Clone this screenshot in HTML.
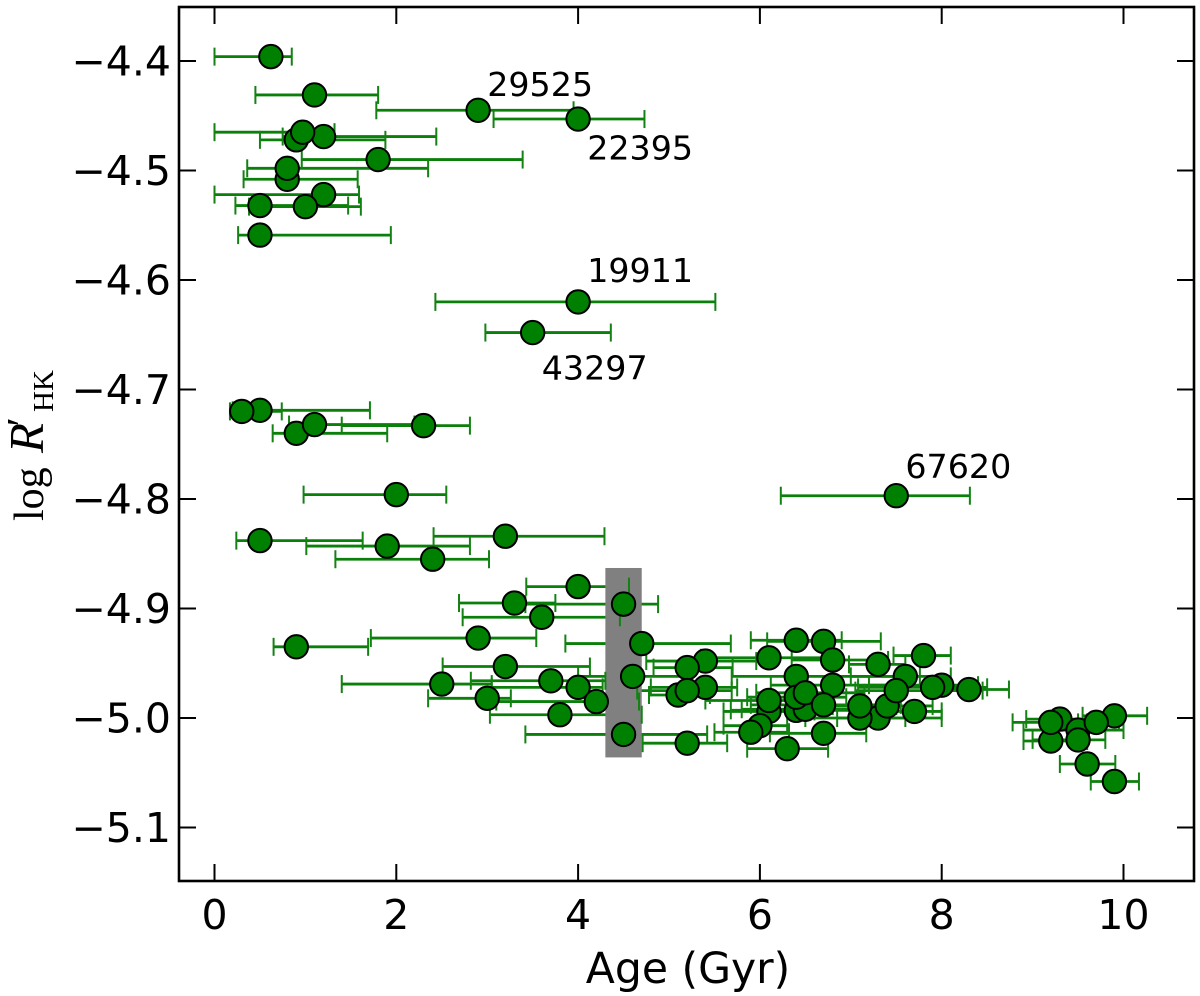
<!DOCTYPE html>
<html>
<head>
<meta charset="utf-8">
<title>log R'HK vs Age</title>
<style>
html,body{margin:0;padding:0;background:#fff;}
svg{display:block;}
.tick{font-family:"DejaVu Sans","Liberation Sans",sans-serif;font-size:41px;fill:#000;}
.anno{font-family:"DejaVu Sans","Liberation Sans",sans-serif;font-size:33.3px;fill:#000;}
.xlab{font-family:"DejaVu Sans","Liberation Sans",sans-serif;font-size:42.5px;fill:#000;}
.ylab{font-family:"Liberation Serif","DejaVu Serif",serif;fill:#000;}
</style>
</head>
<body>
<svg id="chart" xmlns="http://www.w3.org/2000/svg" width="1200" height="996" viewBox="0 0 1200 996">
  <rect x="0" y="0" width="1200" height="996" fill="#fff"/>
  <g id="hbars"></g>
  <g id="band"></g>
  <g id="caps"></g>
  <g id="points"></g>
  <g id="annos"></g>
  <rect x="179" y="7" width="1015" height="874" fill="none" stroke="#000" stroke-width="2.6"/>
  <g id="axes"></g>
  <text class="xlab" x="688" y="983" text-anchor="middle">Age (Gyr)</text>
  <g transform="translate(43,0) rotate(-90)">
    <text class="ylab" font-size="42"><tspan x="-521" y="0">log</tspan><tspan x="-453" y="0" font-style="italic" font-size="49">R</tspan><tspan x="-429" y="-7" font-size="42" font-style="italic">′</tspan><tspan x="-412" y="10" font-size="29">HK</tspan></text>
  </g>
</svg>
<script>
var ages = [0.62,1.1,2.9,4.0,0.9,1.2,0.97,1.8,0.8,0.8,1.2,0.5,1.0,0.5,4.0,3.5,
  0.5,0.3,0.9,2.3,1.1,2.0,7.5,0.5,1.9,3.2,2.4,4.0,3.3,4.5,3.6,2.9,4.7,0.9,3.2,4.6,2.5,3.7,4.0,3.0,4.2,3.8,4.5,
  5.1,5.2,5.4,5.2,5.4,5.2,6.1,6.4,6.7,6.4,6.8,6.8,6.1,6.1,6.4,6.5,6.4,6.5,6.7,6.0,5.9,6.7,6.3,
  7.3,7.6,7.8,8.0,7.9,8.3,7.3,7.1,7.1,7.4,7.5,7.7,
  9.3,9.2,9.2,9.5,9.5,9.9,9.7,9.6,9.9];
var logRhk = [-4.396,-4.431,-4.445,-4.453,-4.472,-4.469,-4.465,-4.490,-4.508,-4.498,-4.522,-4.532,-4.533,-4.559,-4.620,-4.648,
  -4.719,-4.720,-4.740,-4.733,-4.732,-4.796,-4.797,-4.838,-4.843,-4.834,-4.855,-4.880,-4.895,-4.896,-4.908,-4.927,-4.932,-4.935,-4.953,-4.962,-4.969,-4.966,-4.972,-4.982,-4.985,-4.997,-5.015,
  -4.979,-5.023,-4.948,-4.954,-4.972,-4.975,-4.945,-4.929,-4.930,-4.962,-4.947,-4.970,-4.994,-4.984,-4.993,-4.992,-4.981,-4.977,-4.988,-5.007,-5.013,-5.014,-5.028,
  -4.951,-4.962,-4.943,-4.970,-4.972,-4.974,-5.000,-5.000,-4.989,-4.989,-4.975,-4.994,
  -5.001,-5.021,-5.004,-5.011,-5.020,-4.998,-5.004,-5.042,-5.058];
var ageLower = [0,0.45,1.78,3.07,0.5,0.75,0,0.96,0.32,0.36,0,0.23,0.38,0.26,2.43,2.98,
  0.2,0.17,0.64,1.4,0.82,0.98,6.23,0.24,1.01,2.41,1.33,3.43,2.69,3.42,2.73,1.72,3.86,0.65,2.51,4.0,1.4,2.82,3.05,2.35,3.1,3.03,3.42,
  4.78,4.71,4.75,4.83,4.8,4.65,5.35,5.9,6.08,5.69,6.35,6.12,5.6,5.4,5.68,5.8,5.86,5.96,5.9,5.6,5.5,6.11,5.86,
  6.98,7.0,7.47,7.2,7.08,7.85,6.85,6.5,6.8,6.8,7.05,7.0,
  8.93,8.9,8.78,8.9,9.0,9.55,9.5,9.3,9.64];
var ageUpper = [0.85,1.8,3.95,4.73,1.88,2.44,1.32,3.39,1.575,2.35,1.59,1.47,1.61,1.94,5.51,4.36,
  1.71,0.74,1.9,2.81,2.2,2.55,8.31,1.63,2.81,4.29,3.02,4.56,3.75,4.88,4.46,3.54,5.68,1.69,4.13,5.2,3.05,4.3,4.27,3.26,4.67,4.7,5.42,
  5.45,5.64,5.96,5.7,5.75,5.69,6.7,6.9,7.33,7.76,7.41,7.5,6.6,6.6,7.1,7.2,6.95,7.15,7.55,6.3,6.32,7.17,6.75,
  7.6,8.1,8.1,8.4,8.5,8.74,8.0,7.6,7.5,7.9,8.45,8.0,
  9.7,9.6,9.6,10.0,9.8,10.26,9.95,9.91,10.17];
var xTicks = [0,2,4,6,8,10];
var yTicks = [-4.4,-4.5,-4.6,-4.7,-4.8,-4.9,-5.0,-5.1];
var yTickLabels = ['\u22124.4','\u22124.5','\u22124.6','\u22124.7','\u22124.8','\u22124.9','\u22125.0','\u22125.1'];
var annotationNames = ['29525','22395','19911','43297','67620'];
var annotationAges = [3.0,4.1,4.1,3.6,7.6];
var annotationLogs = [-4.432,-4.490,-4.602,-4.691,-4.781];
var bandAgeRange = [4.3,4.7];
var bandLogRange = [-4.863,-5.036];

var NS = 'http://www.w3.org/2000/svg';
function xScale(v){ return 214.5 + 90.9 * v; }
function yScale(v){ return 61 + (-4.4 - v) * 1095; }
function make(tag, parent){
  var el = document.createElementNS(NS, tag);
  document.getElementById(parent).appendChild(el);
  return el;
}
function line(el, x1, y1, x2, y2, color, width){
  el.setAttribute('x1', x1); el.setAttribute('y1', y1);
  el.setAttribute('x2', x2); el.setAttribute('y2', y2);
  el.setAttribute('stroke', color); el.setAttribute('stroke-width', width);
}

ages.forEach(function(age, i){
  var py = yScale(logRhk[i]);
  var lo = xScale(ageLower[i]), hi = xScale(ageUpper[i]);
  var bar = make('line', 'hbars');
  
  
  line(bar, lo, py, hi, py, '#0a7f0a', 2.8);
  var capL = make('line', 'caps');
  
  
  line(capL, lo, py - 9, lo, py + 9, '#138213', 2);
  var capH = make('line', 'caps');
  
  
  line(capH, hi, py - 9, hi, py + 9, '#138213', 2);
  var dot = make('circle', 'points');
  
  
  dot.setAttribute('cx', xScale(age));
  dot.setAttribute('cy', py);
  dot.setAttribute('r', 11.7);
  dot.setAttribute('fill', '#008000');
  dot.setAttribute('stroke', '#000');
  dot.setAttribute('stroke-width', 2);
});

var bandRect = make('rect', 'band');


bandRect.setAttribute('x', xScale(bandAgeRange[0]));
bandRect.setAttribute('y', yScale(bandLogRange[0]));
bandRect.setAttribute('width', xScale(bandAgeRange[1]) - xScale(bandAgeRange[0]));
bandRect.setAttribute('height', yScale(bandLogRange[1]) - yScale(bandLogRange[0]));
bandRect.setAttribute('fill', '#808080');

annotationNames.forEach(function(name, i){
  var t = make('text', 'annos');
  
  
  t.setAttribute('class', 'anno');
  t.setAttribute('x', xScale(annotationAges[i]));
  t.setAttribute('y', yScale(annotationLogs[i]));
  t.textContent = name;
});

xTicks.forEach(function(v){
  var px = xScale(v);
  var b = make('line', 'axes');
  
  
  line(b, px, 881, px, 864, '#000', 2);
  var u = make('line', 'axes');
  
  
  line(u, px, 7, px, 24, '#000', 2);
  var t = make('text', 'axes');
  
  
  t.setAttribute('class', 'tick');
  t.setAttribute('x', px);
  t.setAttribute('y', 929);
  t.setAttribute('text-anchor', 'middle');
  t.textContent = String(v);
});

yTicks.forEach(function(v, i){
  var py = yScale(v);
  var l = make('line', 'axes');
  
  
  line(l, 179, py, 196, py, '#000', 2);
  var r = make('line', 'axes');
  
  
  line(r, 1194, py, 1177, py, '#000', 2);
  var t = make('text', 'axes');
  
  
  t.setAttribute('class', 'tick');
  t.setAttribute('x', 171);
  t.setAttribute('y', py + 14.5);
  t.setAttribute('text-anchor', 'end');
  t.textContent = yTickLabels[i];
});
</script>
</body>
</html>
